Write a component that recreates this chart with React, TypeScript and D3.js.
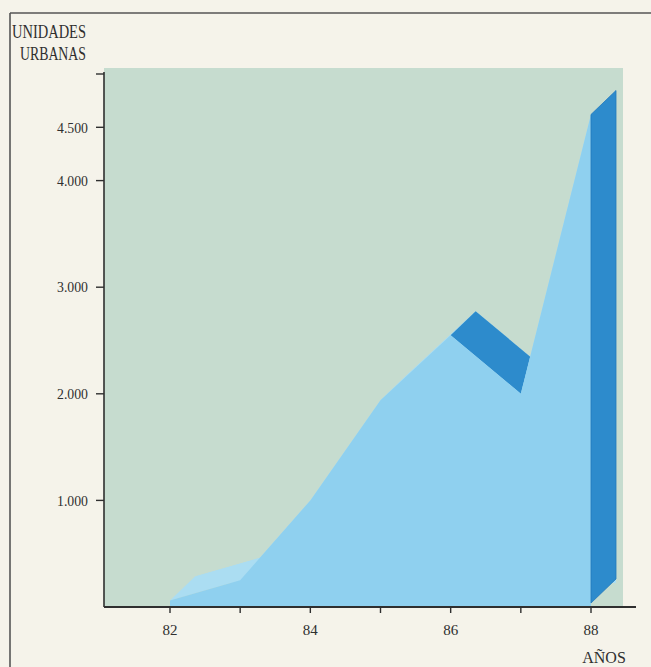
import React from 'react';
import * as d3 from 'd3';

// values (unidades urbanas per year)
const years = [82, 83, 84, 85, 86, 87, 88];
const units = [60, 250, 1000, 1940, 2550, 2000, 4620];

const yTicks = [1000, 2000, 3000, 4000, 4500, 5000];
const yTickLabels = ['1.000', '2.000', '3.000', '4.000', '4.500', ''];
const xTicks = [82, 83, 84, 85, 86, 87, 88];
const xTickLabels = ['82', '', '84', '', '86', '', '88'];

const W = 651;
const H = 667;
const DX = 25; // oblique depth of the extruded area
const DY = -24;

const BG = '#f5f3ea';
const PLOT_BG = '#c6dccf';
const FRONT = '#8fd0ef';
const TOP_LIGHT = '#abddf2';
const DARK = '#2d8bcc';
const INK = '#2f2f2f';
const SERIF = '"Liberation Serif", "DejaVu Serif", serif';

export default function App() {
  const x = d3.scaleLinear().domain([82, 88]).range([170, 591]);
  const y = d3.scaleLinear().domain([0, 5000]).range([607, 74]);
  const y0 = y(0);

  const poly = d3.line<[number, number]>().curve(d3.curveLinearClosed);
  const front: [number, number][] = years.map((yr, i) => [x(yr), y(units[i])]);
  const back = front.map(([px, py]) => [px + DX, py + DY] as [number, number]);

  const frontPoly: [number, number][] = [
    [x(years[0]), y0],
    ...front,
    [x(years[years.length - 1]), y0],
  ];
  const backPoly = frontPoly.map(([px, py]) => [px + DX, py + DY] as [number, number]);

  const topFaces = front.slice(0, -1).map((p, i) => ({
    pts: [p, front[i + 1], back[i + 1], back[i]] as [number, number][],
    falling: units[i + 1] < units[i],
  }));

  const last = front.length - 1;
  const endFace: [number, number][] = [
    [front[last][0], y0 - 4],
    front[last],
    back[last],
    [back[last][0], y0 - 4 + DY],
  ];

  return (
    <svg
      width={W}
      height={H}
      style={{ position: 'absolute', left: 0, top: 0, background: BG }}
    >
      <rect x={0} y={0} width={W} height={H} fill={BG} />
      {/* page frame */}
      <line x1={10} y1={13} x2={W} y2={13} stroke="#555" strokeWidth={1.6} />
      <line x1={10} y1={13} x2={10} y2={H} stroke="#555" strokeWidth={1.6} />

      {/* plot background */}
      <rect x={104} y={68} width={623 - 104} height={y0 - 68} fill={PLOT_BG} />

      {/* extruded area */}
      <path d={poly(backPoly)!} fill={TOP_LIGHT} />
      {topFaces.map((f, i) => (
        <path key={i} d={poly(f.pts)!} fill={f.falling ? DARK : TOP_LIGHT} />
      ))}
      <path d={poly(frontPoly)!} fill={FRONT} />
      <path d={poly(endFace)!} fill={DARK} stroke="#2279bb" strokeWidth={0.8} />

      {/* axes */}
      <line x1={104} y1={72} x2={104} y2={y0} stroke={INK} strokeWidth={1.6} />
      <line x1={104} y1={y0} x2={636} y2={y0} stroke={INK} strokeWidth={1.8} />

      {yTicks.map((t, i) => (
        <g key={t} transform={`translate(0,${y(t)})`}>
          <line x1={96} x2={104} stroke={INK} strokeWidth={1.4} />
          {yTickLabels[i] && (
            <text
              x={88}
              dy="0.35em"
              textAnchor="end"
              fontFamily={SERIF}
              fontSize={15}
              fill={INK}
              textLength={31}
              lengthAdjust="spacingAndGlyphs"
            >
              {yTickLabels[i]}
            </text>
          )}
        </g>
      ))}

      {xTicks.map((t, i) => (
        <g key={t} transform={`translate(${x(t)},${y0})`}>
          <line y1={0} y2={6} stroke={INK} strokeWidth={1.4} />
          {xTickLabels[i] && (
            <text y={28} textAnchor="middle" fontFamily={SERIF} fontSize={15} fill={INK}>
              {xTickLabels[i]}
            </text>
          )}
        </g>
      ))}

      {/* axis titles */}
      <text
        x={86}
        y={38}
        textAnchor="end"
        fontFamily={SERIF}
        fontSize={18}
        fill={INK}
        textLength={74}
        lengthAdjust="spacingAndGlyphs"
      >
        UNIDADES
      </text>
      <text
        x={86}
        y={60}
        textAnchor="end"
        fontFamily={SERIF}
        fontSize={18}
        fill={INK}
        textLength={66}
        lengthAdjust="spacingAndGlyphs"
      >
        URBANAS
      </text>
      <text x={604} y={663} textAnchor="middle" fontFamily={SERIF} fontSize={16} fill={INK}>
        AÑOS
      </text>
    </svg>
  );
}
